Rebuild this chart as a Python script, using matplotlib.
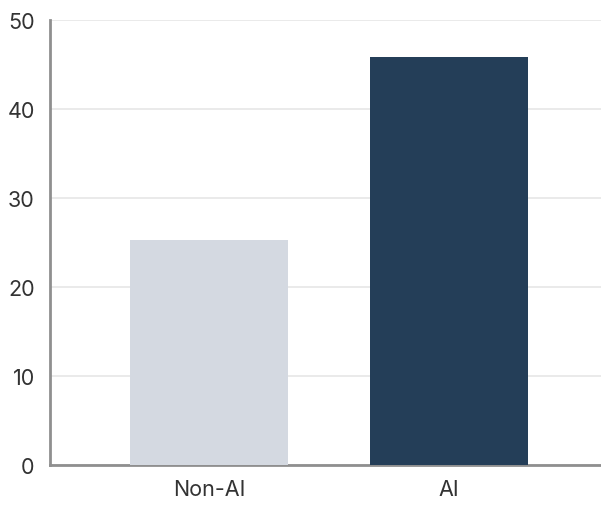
import matplotlib
matplotlib.use("Agg")
import matplotlib.pyplot as plt

categories = ["Non-AI", "AI"]
values = [25.3, 45.8]
colors = ["#d4d9e1", "#243e58"]
yticks = [0, 10, 20, 30, 40, 50]

plt.rcParams["font.family"] = ["Inter", "DejaVu Sans"]

fig = plt.figure(figsize=(6.01, 5.10), dpi=100)
ax = fig.add_axes([50 / 601, 1 - 466 / 510, 1 - 50 / 601, (466 - 21) / 510])

x = range(len(categories))
ax.bar(x, values, width=0.66, color=colors, zorder=3)

ax.set_xlim(-0.6625, 1.633)
ax.set_ylim(0, 50)
ax.set_yticks(yticks)
ax.set_xticks(list(x))
ax.set_xticklabels(categories)

ax.yaxis.grid(True, color="#e8e8e8", linewidth=1.3, zorder=0)
ax.set_axisbelow(True)

for side in ("top", "right"):
    ax.spines[side].set_visible(False)
for side in ("left", "bottom"):
    ax.spines[side].set_color("#8f8f8f")
    ax.spines[side].set_linewidth(2)

ax.tick_params(axis="both", length=0, labelsize=15.5, labelcolor="#333333")
ax.tick_params(axis="y", pad=11)
ax.tick_params(axis="x", pad=10)

fig.savefig("out.png", dpi=100)
